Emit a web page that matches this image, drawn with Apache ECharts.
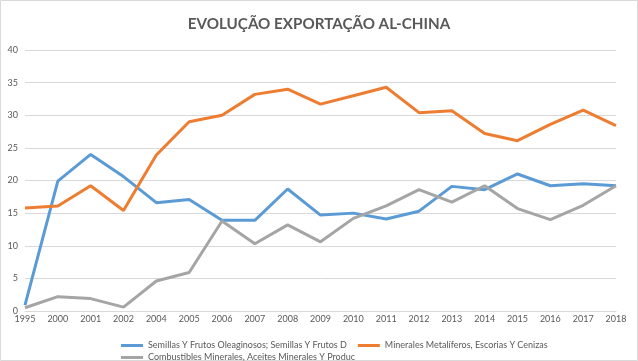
<!DOCTYPE html>
<html><head><meta charset="utf-8">
<script src="https://cdn.jsdelivr.net/npm/echarts@6/dist/echarts.min.js"></script>
<style>html,body{margin:0;padding:0;background:#fff}#c{width:638px;height:361px}</style>
</head><body><div id="c"></div>
<script>
const years = ['1995','2000','2001','2002','2004','2005','2006','2007','2008','2009','2010','2011','2012','2013','2014','2015','2016','2017','2018'];
const semillas = [0.9,19.9,24.0,20.6,16.6,17.1,13.9,13.9,18.7,14.7,15.0,14.1,15.3,19.1,18.6,21.0,19.2,19.5,19.2];
const minerales = [15.8,16.1,19.2,15.4,23.9,29.0,30.0,33.2,34.0,31.7,33.0,34.3,30.4,30.7,27.2,26.1,28.6,30.8,28.4];
const combustibles = [0.5,2.2,1.9,0.6,4.6,5.9,13.8,10.3,13.2,10.6,14.2,16.1,18.6,16.7,19.2,15.7,14.0,16.2,19.2];
const names = ['Semillas Y Frutos Oleaginosos; Semillas Y Frutos D','Minerales Metalíferos, Escorias Y Cenizas','Combustibles Minerales, Aceites Minerales Y Produc'];
const yTicks = {min:0,max:40,interval:5};

const chart = echarts.init(document.getElementById('c'));
const font = 'Lato, Open Sans, sans-serif';
function ser(name, data, color){
  return {name, type:'line', data, symbol:'none', smooth:false,
    lineStyle:{color, width:3}, itemStyle:{color}};
}
chart.setOption({
  animation:false,
  title:{text:'EVOLUÇÃO EXPORTAÇÃO AL-CHINA', left:'center', top:12,
    textStyle:{fontFamily:font, fontSize:15.2, fontWeight:'bold', color:'#595959'}},
  graphic:[{type:'rect', shape:{x:0.5,y:0.5,width:637,height:360}, style:{fill:'none',stroke:'#d9d9d9',lineWidth:1}, silent:true}],
  grid:{left:25, right:22, top:50, bottom:50, containLabel:false},
  legend:[
    {data:[names[0],names[1]], left:116, top:336, icon:'rect', itemWidth:22, itemHeight:3, itemGap:11,
      textStyle:{fontFamily:font, fontSize:9, color:'#595959'}},
    {data:[names[2]], left:116, top:348, icon:'rect', itemWidth:22, itemHeight:3,
      textStyle:{fontFamily:font, fontSize:9, color:'#595959'}}
  ],
  xAxis:{type:'category', data:years, boundaryGap:false,
    axisLine:{lineStyle:{color:'#d9d9d9'}}, axisTick:{show:false},
    axisLabel:{fontFamily:font, fontSize:9, color:'#595959', margin:4, interval:0}},
  yAxis:{type:'value', min:yTicks.min, max:yTicks.max, interval:yTicks.interval,
    axisLine:{show:false}, axisTick:{show:false},
    splitLine:{lineStyle:{color:'#d9d9d9'}},
    axisLabel:{fontFamily:font, fontSize:9, color:'#595959', margin:7}},
  series:[ser(names[0],semillas,'#5B9BD5'), ser(names[1],minerales,'#ED7D31'), ser(names[2],combustibles,'#A5A5A5')]
});
</script></body></html>
